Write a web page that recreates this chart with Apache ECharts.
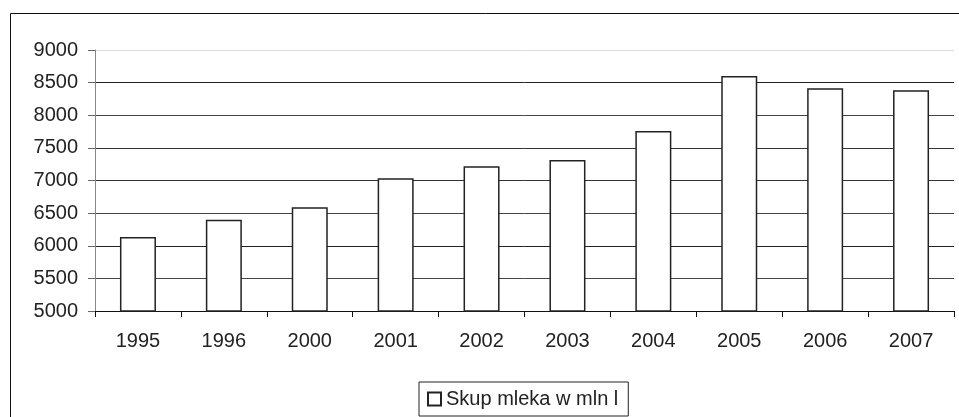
<!DOCTYPE html>
<html>
<head>
<meta charset="utf-8">
<script src="https://cdn.jsdelivr.net/npm/echarts@6/dist/echarts.min.js"></script>
<style>
  html, body { margin: 0; padding: 0; background: #fff; }
  #chart { width: 959px; height: 417px; }
</style>
</head>
<body>
<div id="chart"></div>
<script>
// lata i skup mleka (mln l)
var years = ['1995', '1996', '2000', '2001', '2002', '2003', '2004', '2005', '2006', '2007'];
var skup = [6135, 6400, 6590, 7035, 7220, 7315, 7760, 8600, 8415, 8385];
var yTicks = [5000, 9000, 500]; // min, max, interval

var myChart = echarts.init(document.getElementById('chart'));
myChart.setOption({
    animation: false,
    textStyle: { fontFamily: 'Liberation Sans, Arial, sans-serif' },
    graphic: [{
        type: 'rect',
        shape: { x: 10.5, y: 13.5, width: 1000, height: 500 },
        style: { fill: 'none', stroke: '#111', lineWidth: 1 }
    }],
    grid: { left: 95, right: 5, top: 50, bottom: 106 },
    legend: {
        top: 382,
        left: 419,
        data: ['Skup mleka w mln l'],
        icon: 'rect',
        itemWidth: 13,
        itemHeight: 13,
        itemGap: 4,
        borderColor: '#222',
        borderWidth: 1,
        borderRadius: 0,
        padding: [7, 10, 7, 8],
        textStyle: { fontSize: 20, color: '#222', lineHeight: 20 }
    },
    xAxis: {
        type: 'category',
        data: years,
        axisLine: { lineStyle: { color: '#111', width: 1 } },
        axisTick: { show: true, length: 6, lineStyle: { color: '#111' } },
        axisLabel: { fontSize: 20, color: '#222', margin: 20 }
    },
    yAxis: {
        type: 'value',
        min: yTicks[0],
        max: yTicks[1],
        interval: yTicks[2],
        axisLine: { show: true, lineStyle: { color: '#888' } },
        axisTick: { show: true, length: 7, lineStyle: { color: '#666' } },
        axisLabel: {
            fontSize: 20, color: '#222', margin: 17,
            formatter: function (v) { return String(v); }
        },
        splitLine: {
            lineStyle: {
                color: ['#111', '#444', '#222', '#444', '#333', '#333', '#444', '#222', '#ddd'],
                width: 1
            }
        }
    },
    series: [{
        name: 'Skup mleka w mln l',
        type: 'bar',
        data: skup,
        barWidth: 36,
        itemStyle: { color: '#fff', borderColor: '#222', borderWidth: 1.5 }
    }]
});
</script>
</body>
</html>
